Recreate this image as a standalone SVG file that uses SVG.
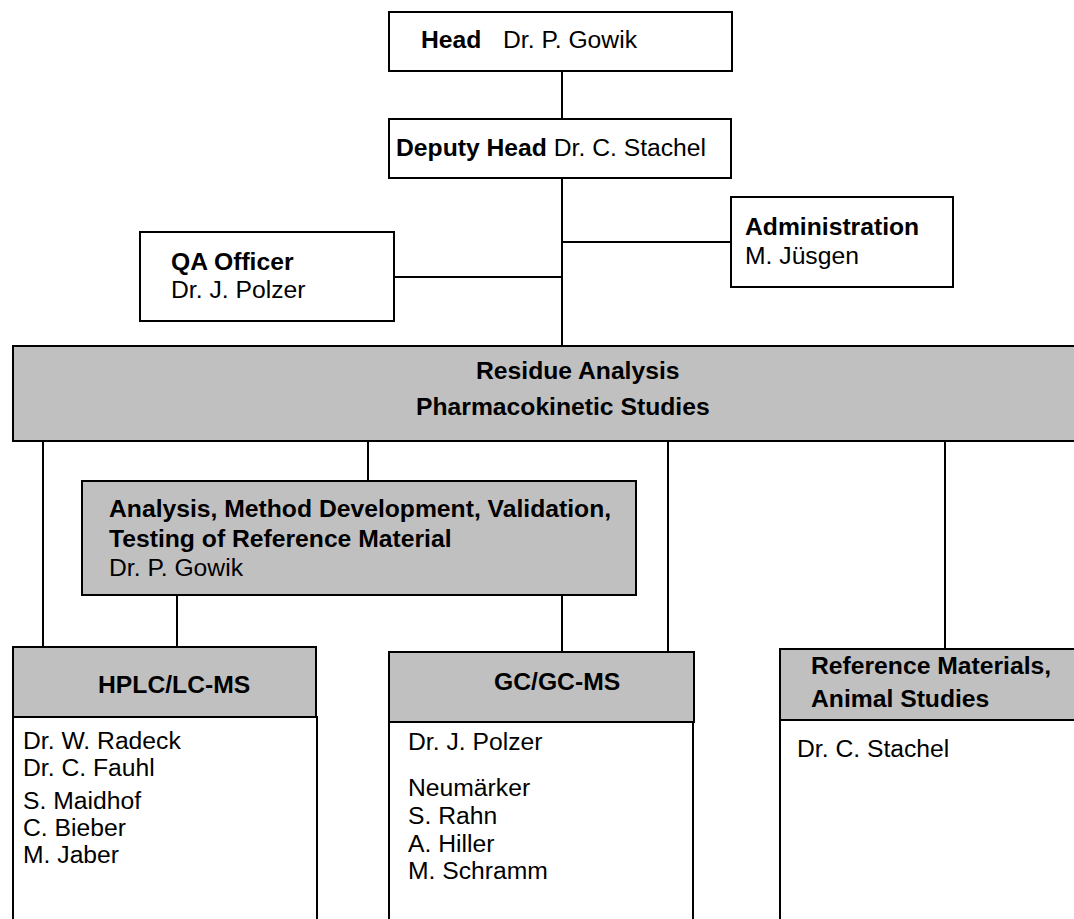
<svg xmlns="http://www.w3.org/2000/svg" width="1074" height="919" viewBox="0 0 1074 919">
<style>
text{font-family:"Liberation Sans",Arial,sans-serif;font-size:24.7px;fill:#000}
.b{font-weight:bold}
.box{fill:#fff;stroke:#000;stroke-width:2}
.gray{fill:#c0c0c0;stroke:#000;stroke-width:2}
.con line{stroke:#000;stroke-width:2}
</style>
<rect width="1074" height="919" fill="#fff"/>
<g id="connectors" class="con">
<line x1="562" y1="71" x2="562" y2="119"/>
<line x1="562" y1="178" x2="562" y2="346"/>
<line x1="562" y1="242" x2="731" y2="242"/>
<line x1="394" y1="277" x2="562" y2="277"/>
<line x1="43" y1="441" x2="43" y2="647"/>
<line x1="368" y1="441" x2="368" y2="481"/>
<line x1="668" y1="441" x2="668" y2="652"/>
<line x1="945" y1="441" x2="945" y2="649"/>
<line x1="177" y1="595" x2="177" y2="647"/>
<line x1="562" y1="595" x2="562" y2="652"/>
</g>
<g id="head">
<rect class="box" x="389" y="12" width="343" height="59"/>
<text x="421" y="48"><tspan class="b">Head</tspan></text>
<text x="503" y="48">Dr. P. Gowik</text>
</g>
<g id="deputy">
<rect class="box" x="389" y="119" width="342" height="59"/>
<text x="396" y="156"><tspan class="b">Deputy Head</tspan> Dr. C. Stachel</text>
</g>
<g id="admin">
<rect class="box" x="731" y="197" width="222" height="90"/>
<text class="b" x="745" y="235">Administration</text>
<text x="745" y="264">M. Jüsgen</text>
</g>
<g id="qa">
<rect class="box" x="140" y="232" width="254" height="89"/>
<text class="b" x="171" y="270">QA Officer</text>
<text x="171" y="298">Dr. J. Polzer</text>
</g>
<g id="residue">
<rect class="gray" x="13" y="346" width="1070" height="95"/>
<text class="b" x="476" y="379">Residue Analysis</text>
<text class="b" x="416" y="415">Pharmacokinetic Studies</text>
</g>
<g id="analysis">
<rect class="gray" x="82" y="481" width="554" height="114"/>
<text class="b" x="109" y="517">Analysis, Method Development, Validation,</text>
<text class="b" x="109" y="547">Testing of Reference Material</text>
<text x="109" y="576">Dr. P. Gowik</text>
</g>
<g id="hplc">
<rect class="box" x="13" y="717" width="304" height="210"/>
<rect class="gray" x="13" y="647" width="303" height="70"/>
<text class="b" x="98" y="693">HPLC/LC-MS</text>
<text x="23" y="749">Dr. W. Radeck</text>
<text x="23" y="776">Dr. C. Fauhl</text>
<text x="23" y="809">S. Maidhof</text>
<text x="23" y="836">C. Bieber</text>
<text x="23" y="863">M. Jaber</text>
</g>
<g id="gc">
<rect class="box" x="389" y="722" width="304" height="205"/>
<rect class="gray" x="389" y="652" width="305" height="70"/>
<text class="b" x="494" y="690">GC/GC-MS</text>
<text x="408" y="750">Dr. J. Polzer</text>
<text x="408" y="796">Neumärker</text>
<text x="408" y="824">S. Rahn</text>
<text x="408" y="852">A. Hiller</text>
<text x="408" y="879">M. Schramm</text>
</g>
<g id="reference">
<rect class="box" x="780" y="720" width="310" height="207"/>
<rect class="gray" x="780" y="649" width="310" height="71"/>
<text class="b" x="811" y="674">Reference Materials,</text>
<text class="b" x="811" y="707">Animal Studies</text>
<text x="797" y="757">Dr. C. Stachel</text>
</g>
</svg>
